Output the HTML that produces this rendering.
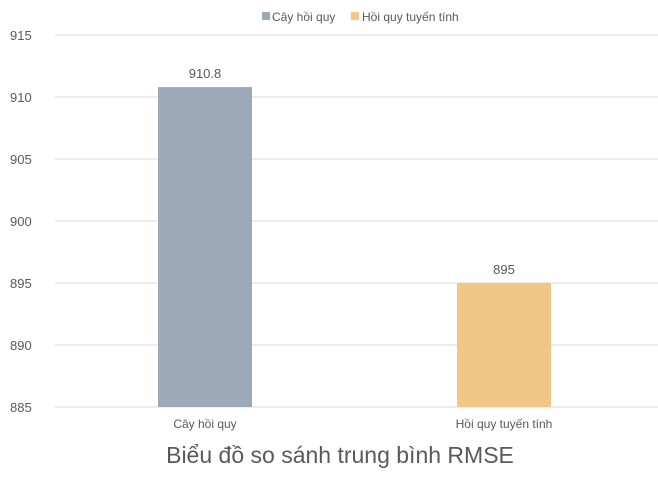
<!DOCTYPE html>
<html><head><meta charset="utf-8"><style>
body{margin:0;background:#fff;}
svg text{font-family:"Liberation Sans",sans-serif;fill:#595959;}
</style></head><body>
<svg id="chart" width="658" height="474" viewBox="0 0 658 474" xmlns="http://www.w3.org/2000/svg">
<g>
 <rect x="262" y="12" width="8" height="8" fill="#9ba9b8"/>
 <text x="272" y="21" font-size="12">Cây hồi quy</text>
 <rect x="351" y="12" width="8" height="8" fill="#f1c686"/>
 <text x="362" y="21" font-size="12">Hồi quy tuyến tính</text>
</g>
<g id="grid"></g><g id="bars"></g>
<text x="340" y="463" font-size="23" text-anchor="middle">Biểu đồ so sánh trung bình  RMSE</text>
</svg>
<script>
const categories=["Cây hồi quy","Hồi quy tuyến tính"];
const values=[910.8,895];
const valueLabels=["910.8","895"];
const ticks=[885,890,895,900,905,910,915];
const colors=["#9ba9b8","#f1c686"];
const NS="http://www.w3.org/2000/svg";
const y=v=>407-(v-885)*12.4;
const xc=i=>205+i*299;
const grid=document.getElementById('grid'),bars=document.getElementById('bars');
function mk(tag,attrs,parent,txt){const e=document.createElementNS(NS,tag);for(const k in attrs)e.setAttribute(k,attrs[k]);if(txt!==undefined)e.textContent=txt;parent.appendChild(e);return e;}
ticks.forEach(t=>{
 const l=mk('line',{x1:55,x2:658,y1:y(t),y2:y(t),stroke:'#d9d9d9','stroke-width':1},grid);
 
 
 const tx=mk('text',{x:10,y:y(t)+5,'font-size':13},grid,String(t));
 
 
});
values.forEach((v,i)=>{
 const r=mk('rect',{x:xc(i)-47,y:y(v),width:94,height:407-y(v),fill:colors[i]},bars);
 
 
 const lb=mk('text',{x:xc(i),y:y(v)-9,'font-size':13,'text-anchor':'middle'},bars,valueLabels[i]);
 
 
 const c=mk('text',{x:xc(i),y:428,'font-size':12,'text-anchor':'middle'},bars,categories[i]);
 
 
});
</script>
</body></html>
